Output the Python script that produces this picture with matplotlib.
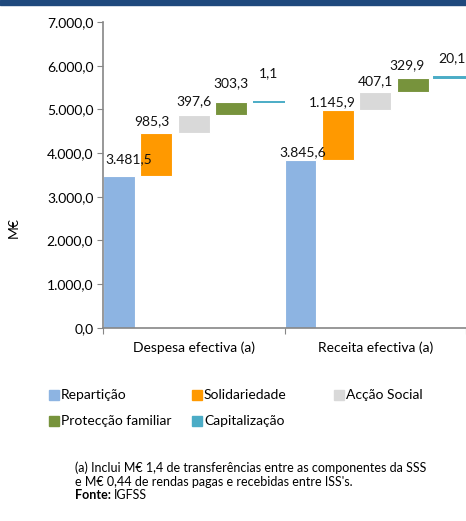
import numpy as np
import matplotlib.pyplot as plt
from matplotlib.patches import Rectangle

plt.rcParams['font.family'] = ['Lato', 'DejaVu Sans']

# Data
categories = ["Despesa efectiva (a)", "Receita efectiva (a)"]
components = ["Repartição", "Solidariedade", "Acção Social", "Protecção familiar", "Capitalização"]
despesa = [3481.5, 985.3, 397.6, 303.3, 1.1]
receita = [3845.6, 1145.9, 407.1, 329.9, 20.1]
colors = ["#8DB4E2", "#FF9900", "#D9D9D9", "#77933C", "#4BACC6"]
yticks = np.arange(0, 7001, 1000)

# label offsets from bar top centre (pixels)
label_dx = [[10, -4, 0, 0, 0], [2, -6, 0, -6, 2]]
label_dy = [[17, 11, 14, 19, 29], [8, 8, 11, 12, 18]]


def pt_fmt(v):
    s = f"{v:,.1f}"
    return s.replace(",", "X").replace(".", ",").replace("X", ".")


W, H = 466, 521
fig = plt.figure(figsize=(W / 100, H / 100), dpi=100)
ax = fig.add_axes([103 / W, 1 - 327.7 / H, 1 - 103 / W, (327.7 - 22) / H])

bar_w = 32 / 182
pitch = (1 - bar_w) / 4
for i, vals in enumerate([despesa, receita]):
    bottom = 0
    for j, v in enumerate(vals):
        x0 = i + j * pitch
        lw = 1.4 if j == 4 else 0.8
        ec = colors[j] if j == 4 else "white"
        ax.bar(x0, v, bar_w, bottom=bottom, align="edge", color=colors[j],
               edgecolor=ec, linewidth=lw, zorder=2)
        ax.annotate(pt_fmt(v), (x0 + bar_w / 2, bottom + v),
                    xytext=(label_dx[i][j] * 0.72, label_dy[i][j] * 0.72),
                    textcoords="offset points",
                    ha="center", va="center", fontsize=10, color="#111111")
        bottom += v

ax.set_xlim(0, 2)
ax.set_ylim(0, 7000)
ax.set_yticks(yticks)
ax.set_yticklabels([pt_fmt(t) for t in yticks], fontsize=10)
ax.set_xticks([0, 1, 2])
ax.set_xticklabels([])
ax.set_xticks([0.5, 1.5], minor=True)
ax.set_xticklabels(categories, minor=True, fontsize=10)
ax.tick_params(axis="x", which="minor", length=0, pad=10)
ax.tick_params(axis="x", which="major", length=4, color="#868686")
ax.tick_params(axis="y", length=4, color="#868686", pad=3)
for s in ["top", "right"]:
    ax.spines[s].set_visible(False)
for s in ["left", "bottom"]:
    ax.spines[s].set_color("#868686")
    ax.spines[s].set_linewidth(1.2)

fig.text(14 / W, 1 - 228 / H, "M€", rotation=90, ha="center", va="center", fontsize=10)

# top banner
fig.patches.append(Rectangle((0, 1 - 5 / H), 1, 5 / H, transform=fig.transFigure,
                             color="#1F497D", zorder=0))

# legend (manual layout)
leg_pos = [(49, 395), (192, 395), (334, 395), (49, 421), (192, 421)]
for (lx, ly), name, c in zip(leg_pos, components, colors):
    fig.patches.append(Rectangle((lx / W, 1 - (ly + 5) / H), 10 / W, 10 / H,
                                 transform=fig.transFigure, color=c))
    fig.text((lx + 12) / W, 1 - ly / H, name, ha="left", va="center", fontsize=10)

# footnote
fs = 9.0
fig.text(75 / W, 1 - 468 / H, "(a) Inclui M€ 1,4 de transferências entre as componentes da SSS",
         ha="left", va="center", fontsize=fs)
fig.text(75 / W, 1 - 482 / H, "e M€ 0,44 de rendas pagas e recebidas entre ISS's.",
         ha="left", va="center", fontsize=fs)
t = fig.text(75 / W, 1 - 495 / H, "Fonte:", ha="left", va="center", fontsize=fs, weight="bold")
fig.canvas.draw()
x_end = t.get_window_extent().x1
fig.text((x_end + 3) / W, 1 - 495 / H, "IGFSS", ha="left", va="center", fontsize=fs)

fig.savefig("out.png", dpi=100)
